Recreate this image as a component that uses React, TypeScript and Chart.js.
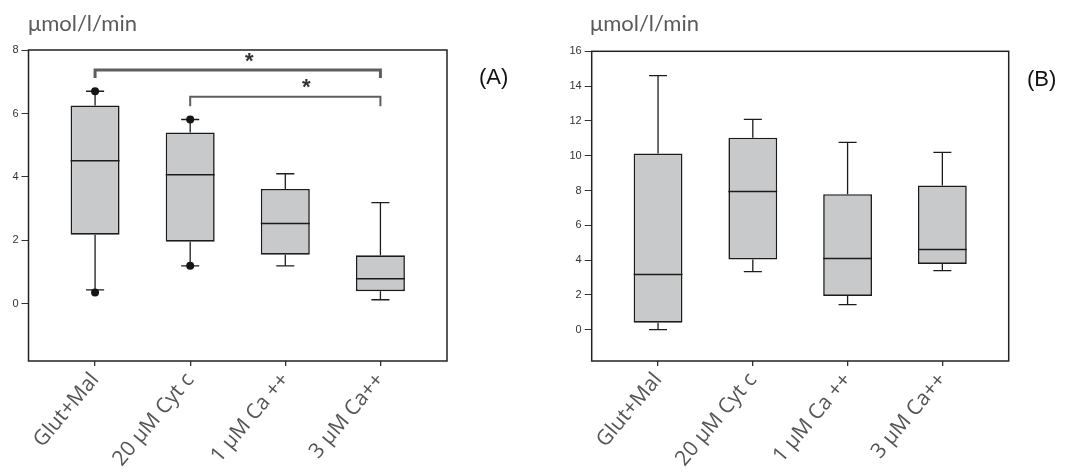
import React, { useEffect, useRef } from "react";
import { Chart, registerables } from "chart.js";

Chart.register(...registerables);

// ---------- data ----------
const categories = ["Glut+Mal", "20 μM Cyt c", "1 μM Ca ++", "3 μM Ca++"];
const categoryPos = [1, 2, 3, 4];

// Panel A
const minA = [0.44, 1.2, 1.2, 0.13];
const q1A = [2.18, 1.96, 1.55, 0.4];
const medA = [4.51, 4.07, 2.53, 0.79];
const q3A = [6.25, 5.4, 3.62, 1.53];
const maxA = [6.7, 5.81, 4.1, 3.19];
const outlierXA = [1, 1, 2, 2];
const outlierYA = [6.7, 0.36, 5.81, 1.2];
const yTicksA = [0, 2, 4, 6, 8];

// significance brackets (panel A)
const sigFromA = [1, 2];
const sigToA = [4, 4];
const sigTopA = [7.37, 6.53];
const sigEndA = [7.12, 6.23];
const sigStarXA = [2.62, 3.22];
const sigStarYA = [7.78, 6.96];
const sigWidthA = [3, 2];

// Panel B
const minB = [0.0, 3.34, 1.44, 3.4];
const q1B = [0.4, 4.03, 1.94, 3.78];
const medB = [3.17, 7.94, 4.09, 4.61];
const q3B = [10.13, 11.03, 7.79, 8.29];
const maxB = [14.6, 12.09, 10.77, 10.19];
const yTicksB = [0, 2, 4, 6, 8, 10, 12, 14, 16];

const CAP_HALF = 0.095;
const MED_HALF = 0.2575;

type Pt = { x: number; y: number | null };

function whiskerPts(lo: number[], q1: number[], q3: number[], hi: number[]): Pt[] {
  const out: Pt[] = [];
  categoryPos.forEach((x, i) => {
    out.push({ x, y: q3[i] }, { x, y: hi[i] }, { x, y: null });
    out.push({ x, y: q1[i] }, { x, y: lo[i] }, { x, y: null });
  });
  return out;
}
function capPts(lo: number[], hi: number[]): Pt[] {
  const out: Pt[] = [];
  categoryPos.forEach((x, i) => {
    out.push({ x: x - CAP_HALF, y: hi[i] }, { x: x + CAP_HALF, y: hi[i] }, { x, y: null });
    out.push({ x: x - CAP_HALF, y: lo[i] }, { x: x + CAP_HALF, y: lo[i] }, { x, y: null });
  });
  return out;
}
function medianPts(med: number[]): Pt[] {
  const out: Pt[] = [];
  categoryPos.forEach((x, i) => {
    out.push({ x: x - MED_HALF, y: med[i] }, { x: x + MED_HALF, y: med[i] }, { x, y: null });
  });
  return out;
}

interface PanelCfg {
  left: number;
  width: number;
  padTop: number;
  padRight: number;
  yAxisWidth: number;
  yMax: number;
  yTicks: number[];
  lo: number[];
  q1: number[];
  med: number[];
  q3: number[];
  hi: number[];
  outX: number[];
  outY: number[];
  sig: boolean;
  titleX: number;
  panelLabel: string;
  panelLabelX: number;
  panelLabelY: number;
}

const panels: PanelCfg[] = [
  {
    left: 0, width: 540, padTop: 50, padRight: 93, yAxisWidth: 28.5, yMax: 8, yTicks: yTicksA,
    lo: minA, q1: q1A, med: medA, q3: q3A, hi: maxA, outX: outlierXA, outY: outlierYA, sig: true,
    titleX: 28, panelLabel: "(A)", panelLabelX: 479, panelLabelY: 78,
  },
  {
    left: 540, width: 539, padTop: 51.3, padRight: 70.3, yAxisWidth: 51.7, yMax: 16, yTicks: yTicksB,
    lo: minB, q1: q1B, med: medB, q3: q3B, hi: maxB, outX: [], outY: [], sig: false,
    titleX: 50, panelLabel: "(B)", panelLabelX: 487, panelLabelY: 80,
  },
];

function Panel({ cfg }: { cfg: PanelCfg }) {
  const ref = useRef<HTMLCanvasElement>(null);
  useEffect(() => {
    const datasets: any[] = [];
    datasets.push({
      type: "bar",
      data: categoryPos.map((x, i) => ({ x, y: [cfg.q1[i], cfg.q3[i]] })),
      backgroundColor: "#c8c9cb",
      borderColor: "#1c1c1c",
      borderWidth: 1.6,
      borderSkipped: false,
      categoryPercentage: 1,
      barPercentage: 0.515,
      order: 5,
    });
    const lineBase = {
      type: "line",
      pointRadius: 0,
      spanGaps: false,
      fill: false,
      borderColor: "#1c1c1c",
      tension: 0,
    };
    datasets.push({ ...lineBase, data: whiskerPts(cfg.lo, cfg.q1, cfg.q3, cfg.hi), borderWidth: 1.3, order: 6 });
    datasets.push({ ...lineBase, data: capPts(cfg.lo, cfg.hi), borderWidth: 1.3, order: 4 });
    datasets.push({ ...lineBase, data: medianPts(cfg.med), borderWidth: 1.5, order: 3 });
    if (cfg.outX.length) {
      datasets.push({
        type: "line",
        showLine: false,
        data: cfg.outX.map((x, i) => ({ x, y: cfg.outY[i] })),
        pointRadius: 4,
        pointBackgroundColor: "#151515",
        pointBorderColor: "#151515",
        pointBorderWidth: 0,
        order: 1,
      });
    }
    if (cfg.sig) {
      sigFromA.forEach((from, i) => {
        datasets.push({
          ...lineBase,
          data: [
            { x: from, y: sigEndA[i] },
            { x: from, y: sigTopA[i] },
            { x: sigToA[i], y: sigTopA[i] },
            { x: sigToA[i], y: sigEndA[i] },
          ],
          borderColor: "#5e5e5e",
          borderWidth: sigWidthA[i],
          borderJoinStyle: "miter",
          order: 2,
        });
      });
    }

    const decor = {
      id: "decor",
      afterDatasetsDraw(chart: any) {
        const { ctx, chartArea } = chart;
        ctx.save();
        ctx.strokeStyle = "#222";
        ctx.lineWidth = 1.5;
        ctx.strokeRect(chartArea.left, chartArea.top, chartArea.right - chartArea.left, chartArea.bottom - chartArea.top);
        ctx.restore();
      },
      afterDraw(chart: any) {
        const { ctx } = chart;
        ctx.save();
        ctx.fillStyle = "#5a5a5a";
        ctx.font = "22px Lato";
        ctx.textAlign = "left";
        ctx.textBaseline = "alphabetic";
        ctx.fillText("μmol/l/min", cfg.titleX, 31);
        ctx.fillStyle = "#111";
        ctx.font = "22px 'Liberation Sans'";
        ctx.textBaseline = "middle";
        ctx.fillText(cfg.panelLabel, cfg.panelLabelX, cfg.panelLabelY);
        if (cfg.sig) {
          const xs = chart.scales.x;
          const ys = chart.scales.y;
          ctx.fillStyle = "#333";
          ctx.font = "bold 22px 'Liberation Sans'";
          ctx.textAlign = "center";
          sigStarXA.forEach((sx, i) => {
            ctx.fillText("*", xs.getPixelForValue(sx), ys.getPixelForValue(sigStarYA[i]) + 5);
          });
        }
        ctx.restore();
      },
    };

    const chart = new Chart(ref.current as HTMLCanvasElement, {
      type: "bar",
      data: { datasets },
      options: {
        responsive: false,
        animation: false,
        layout: { padding: { left: 0, right: cfg.padRight, top: cfg.padTop, bottom: 0 } },
        plugins: { legend: { display: false }, tooltip: { enabled: false } },
        scales: {
          x: {
            type: "linear",
            min: 0.3,
            max: 4.7,
            offset: false,
            afterBuildTicks: (s: any) => {
              s.ticks = categoryPos.map((v) => ({ value: v }));
            },
            afterFit: (s: any) => {
              s.height = 112;
            },
            ticks: {
              autoSkip: false,
              minRotation: 50,
              maxRotation: 50,
              padding: 2,
              color: "#555",
              font: { family: "Open Sans", size: 21 },
              callback: (_v: any, idx: number) => categories[idx],
            },
            grid: { display: true, offset: false, drawOnChartArea: false, drawTicks: true, tickLength: 5, color: "#333", lineWidth: 1.3 },
            border: { display: false },
          },
          y: {
            type: "linear",
            min: -1.8,
            max: cfg.yMax,
            afterBuildTicks: (s: any) => {
              s.ticks = cfg.yTicks.map((v) => ({ value: v }));
            },
            afterFit: (s: any) => {
              s.width = cfg.yAxisWidth;
            },
            ticks: {
              padding: 3,
              color: "#333",
              font: { family: "Liberation Sans", size: 11 },
            },
            grid: { display: true, drawOnChartArea: false, drawTicks: true, tickLength: 7, color: "#333", lineWidth: 1 },
            border: { display: false },
          },
        },
      } as any,
      plugins: [decor],
    } as any);
    return () => chart.destroy();
  }, []);
  return (
    <canvas
      ref={ref}
      width={cfg.width}
      height={473}
      style={{ position: "absolute", left: cfg.left, top: 0, display: "block" }}
    />
  );
}

export default function App() {
  return (
    <div style={{ position: "absolute", left: 0, top: 0, width: 1079, height: 473, background: "#fff" }}>
      {panels.map((p, i) => (
        <Panel key={i} cfg={p} />
      ))}
    </div>
  );
}
